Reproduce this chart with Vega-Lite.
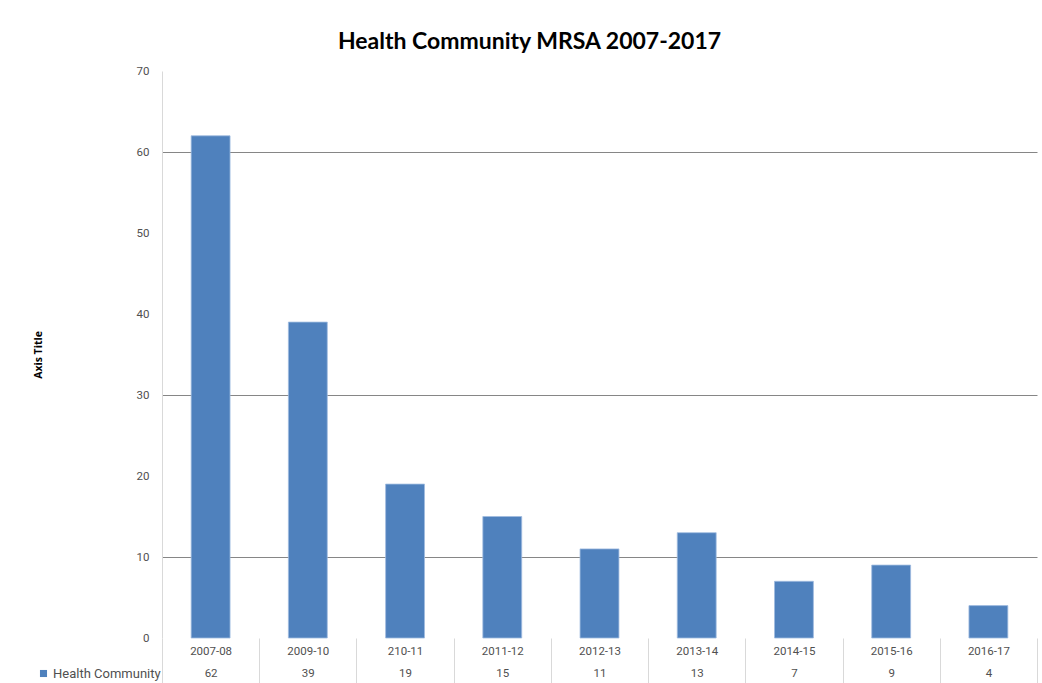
{
  "$schema": "https://vega.github.io/schema/vega-lite/v6.json",
  "width": 875,
  "height": 567,
  "autosize": "none",
  "padding": {"left": 162, "top": 71, "right": 5, "bottom": 45},
  "background": "white",
  "title": {
    "text": "Health Community MRSA 2007-2017",
    "font": "Lato",
    "fontSize": 23,
    "fontWeight": "bold",
    "color": "#000000",
    "anchor": "middle",
    "dx": -70,
    "offset": 11
  },
  "datasets": {
    "mrsa": [
      {"period": "2007-08", "cases": 62, "series": "Health Community"},
      {"period": "2009-10", "cases": 39, "series": "Health Community"},
      {"period": "210-11", "cases": 19, "series": "Health Community"},
      {"period": "2011-12", "cases": 15, "series": "Health Community"},
      {"period": "2012-13", "cases": 11, "series": "Health Community"},
      {"period": "2013-14", "cases": 13, "series": "Health Community"},
      {"period": "2014-15", "cases": 7, "series": "Health Community"},
      {"period": "2015-16", "cases": 9, "series": "Health Community"},
      {"period": "2016-17", "cases": 4, "series": "Health Community"}
    ]
  },
  "data": {"name": "mrsa"},
  "mark": {"type": "bar", "width": {"band": 0.4}, "stroke": "#9fbbe0", "strokeWidth": 0.8},
  "encoding": {
    "x": {
      "field": "period",
      "type": "nominal",
      "sort": null,
      "scale": {"paddingInner": 0, "paddingOuter": 0},
      "axis": {
        "title": null,
        "domain": false,
        "grid": false,
        "ticks": true,
        "tickBand": "extent",
        "tickSize": 45,
        "tickColor": "#d9d9d9",
        "tickWidth": 1,
        "labelPadding": -38,
        "labelAngle": 0,
        "labelFont": "Roboto",
        "labelFontSize": 11.5,
        "labelColor": "#505050",
        "labelLineHeight": 22,
        "labelBaseline": "top",
        "labelExpr": "indexof(pluck(data('mrsa'), 'period'), datum.label) < 0 ? '' : [datum.label, '' + data('mrsa')[indexof(pluck(data('mrsa'), 'period'), datum.label)].cases]"
      }
    },
    "y": {
      "field": "cases",
      "type": "quantitative",
      "scale": {"domain": [0, 70], "nice": false},
      "axis": {
        "title": "Axis Title",
        "titleFont": "Open Sans",
        "titleFontSize": 10.5,
        "titleFontWeight": "bold",
        "titleColor": "#000000",
        "titlePadding": 93,
        "values": [0, 10, 20, 30, 40, 50, 60, 70],
        "domain": true,
        "domainColor": "#d9d9d9",
        "domainWidth": 1,
        "ticks": false,
        "labelPadding": 13,
        "labelFont": "Roboto",
        "labelFontSize": 11.5,
        "labelColor": "#505050",
        "grid": true,
        "gridColor": "#868686",
        "gridWidth": 1,
        "gridOpacity": {
          "condition": {"test": "indexof([10, 30, 60], datum.value) >= 0", "value": 1},
          "value": 0
        }
      }
    },
    "color": {
      "field": "series",
      "type": "nominal",
      "scale": {"range": ["#4f81bd"]},
      "legend": {
        "title": null,
        "orient": "none",
        "legendX": -125,
        "legendY": 596,
        "symbolType": "square",
        "symbolSize": 50,
        "symbolStrokeWidth": 0,
        "labelFont": "Roboto",
        "labelFontSize": 13,
        "labelColor": "#505050",
        "labelOffset": 3
      }
    }
  },
  "config": {"view": {"stroke": null}}
}
